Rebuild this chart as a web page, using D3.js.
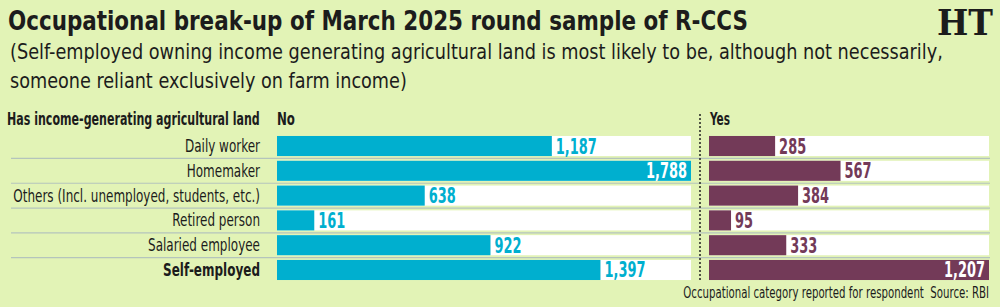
<!DOCTYPE html>
<html>
<head>
<meta charset="utf-8">
<script src="https://cdn.jsdelivr.net/npm/d3@7"></script>
<style>
  html, body { margin: 0; padding: 0; background: #e2f3b6; }
  svg { display: block; }
  text { font-family: "DejaVu Sans Condensed", "Liberation Sans Narrow", "DejaVu Sans", sans-serif; fill: #1c1c1c; }
</style>
</head>
<body>
<div id="chart"></div>
<script>
// data
var categories = ["Daily worker", "Homemaker", "Others (Incl. unemployed, students, etc.)",
  "Retired person", "Salaried employee", "Self-employed"];
var noLand = [1187, 1788, 638, 161, 922, 1397];
var yesLand = [285, 567, 384, 95, 333, 1207];

var svgWidth = 1000;
var svgHeight = 307;

var svg = d3.select("#chart")
  .append("svg")
  .attr("width", svgWidth)
  .attr("height", svgHeight);

svg.append("rect")
  .attr("width", svgWidth)
  .attr("height", svgHeight)
  .attr("fill", "#e2f3b6");

// the original uses a condensed face, so squeeze text horizontally with a transform
function scaleX(node, k) {
  var t = d3.select(node);
  var x = +t.attr("x") || 0;
  var yy = +t.attr("y") || 0;
  t.attr("x", 0).attr("y", 0)
    .attr("transform", `translate(${x},${yy}) scale(${k},1)`);
}
function fitTo(sel, w) {
  sel.each(function() {
    scaleX(this, w / this.getComputedTextLength());
  });
}
function squeeze(sel, k) {
  sel.each(function() { scaleX(this, k); });
}

// title block
var title = svg.append("text")
  .attr("x", 8).attr("y", 30)
  .attr("font-size", 27).attr("font-weight", "bold")
  .text("Occupational break-up of March 2025 round sample of R-CCS");
fitTo(title, 740);

var sub1 = svg.append("text")
  .attr("x", 10).attr("y", 59)
  .attr("font-size", 22)
  .text("(Self-employed owning income generating agricultural land is most likely to be, although not necessarily,");
fitTo(sub1, 933);

var sub2 = svg.append("text")
  .attr("x", 10).attr("y", 88)
  .attr("font-size", 22)
  .text("someone reliant exclusively on farm income)");
fitTo(sub2, 397);

var logo = svg.append("text")
  .attr("x", 993).attr("y", 35)
  .attr("text-anchor", "end")
  .attr("font-size", 35).attr("font-weight", "bold")
  .style("font-family", "'DejaVu Serif', 'Liberation Serif', serif")
  .text("HT");
fitTo(logo, 56);

// scales
var y = d3.scaleBand()
  .domain(categories)
  .range([133.5, 282.5])
  .paddingInner(0.19)
  .paddingOuter(0.1);

var xNo = d3.scaleLinear()
  .domain([0, d3.max(noLand)])
  .range([277, 691]);

var xYes = d3.scaleLinear()
  .domain([0, d3.max(yesLand)])
  .range([709, 989]);

var rows = categories.map(function(c, i) {
  return { cat: c, no: noLand[i], yes: yesLand[i], i: i };
});

// separator lines between rows
svg.selectAll(".sep")
  .data(rows.slice(0, rows.length - 1))
  .enter()
  .append("line")
  .attr("class", "sep")
  .attr("x1", 11).attr("x2", 990)
  .attr("y1", d => y(d.cat) + y.bandwidth() + 2.4)
  .attr("y2", d => y(d.cat) + y.bandwidth() + 2.4)
  .attr("stroke", "#b4c4bc")
  .attr("stroke-width", 1.2);

// header row
var header = svg.append("text")
  .attr("x", 7).attr("y", 125)
  .attr("font-size", 17).attr("font-weight", "bold")
  .text("Has income-generating agricultural land");
fitTo(header, 253);

var noHead = svg.append("text")
  .attr("x", 277).attr("y", 125)
  .attr("font-size", 17).attr("font-weight", "bold")
  .text("No");
fitTo(noHead, 18);

var yesHead = svg.append("text")
  .attr("x", 710).attr("y", 125)
  .attr("font-size", 17).attr("font-weight", "bold")
  .text("Yes");
fitTo(yesHead, 20);

// white track behind bars
svg.selectAll(".trackNo")
  .data(rows)
  .enter()
  .append("rect")
  .attr("x", xNo(0))
  .attr("y", d => y(d.cat))
  .attr("width", xNo.range()[1] - xNo(0))
  .attr("height", y.bandwidth())
  .attr("fill", "#ffffff");

svg.selectAll(".trackYes")
  .data(rows)
  .enter()
  .append("rect")
  .attr("x", xYes(0))
  .attr("y", d => y(d.cat))
  .attr("width", xYes.range()[1] - xYes(0))
  .attr("height", y.bandwidth())
  .attr("fill", "#ffffff");

// bars
svg.selectAll(".barNo")
  .data(rows)
  .enter()
  .append("rect")
  .attr("class", "barNo")
  .attr("x", xNo(0))
  .attr("y", d => y(d.cat))
  .attr("width", d => xNo(d.no) - xNo(0))
  .attr("height", y.bandwidth())
  .attr("fill", "#00afcf");

svg.selectAll(".barYes")
  .data(rows)
  .enter()
  .append("rect")
  .attr("class", "barYes")
  .attr("x", xYes(0))
  .attr("y", d => y(d.cat))
  .attr("width", d => xYes(d.yes) - xYes(0))
  .attr("height", y.bandwidth())
  .attr("fill", "#733a58");

// category labels
var catLabels = svg.selectAll(".cat")
  .data(rows)
  .enter()
  .append("text")
  .attr("class", "cat")
  .attr("x", 260)
  .attr("y", d => y(d.cat) + y.bandwidth() / 2 + 6)
  .attr("text-anchor", "end")
  .attr("font-size", 17)
  .attr("font-weight", d => d.cat === "Self-employed" ? "bold" : "normal")
  .text(d => d.cat);

var othersLen = catLabels.filter(d => d.i === 2).node().getComputedTextLength();
squeeze(catLabels, 247 / othersLen);

// value labels
var fmt = d3.format(",");
var maxNo = d3.max(noLand);
var maxYes = d3.max(yesLand);

var valNo = svg.selectAll(".valNo")
  .data(rows)
  .enter()
  .append("text")
  .attr("class", "valNo")
  .attr("x", d => d.no === maxNo ? xNo(d.no) - 4 : xNo(d.no) + 4)
  .attr("y", d => y(d.cat) + y.bandwidth() / 2 + 7.5)
  .attr("text-anchor", d => d.no === maxNo ? "end" : "start")
  .attr("font-size", 21).attr("font-weight", "bold")
  .style("fill", d => d.no === maxNo ? "#ffffff" : "#00afcf")
  .text(d => fmt(d.no));

var valYes = svg.selectAll(".valYes")
  .data(rows)
  .enter()
  .append("text")
  .attr("class", "valYes")
  .attr("x", d => d.yes === maxYes ? xYes(d.yes) - 4 : xYes(d.yes) + 4)
  .attr("y", d => y(d.cat) + y.bandwidth() / 2 + 7.5)
  .attr("text-anchor", d => d.yes === maxYes ? "end" : "start")
  .attr("font-size", 21).attr("font-weight", "bold")
  .style("fill", d => d.yes === maxYes ? "#ffffff" : "#733a58")
  .text(d => fmt(d.yes));

var refLen = valNo.filter(d => d.i === 0).node().getComputedTextLength();
var kVal = 41 / refLen;
squeeze(valNo, kVal);
squeeze(valYes, kVal);

// dotted divider between panels
svg.append("line")
  .attr("x1", 700).attr("x2", 700)
  .attr("y1", 114).attr("y2", 281)
  .attr("stroke", "#222")
  .attr("stroke-width", 1.5)
  .attr("stroke-dasharray", "2,2");

// footer
var foot = svg.append("text")
  .attr("x", 989).attr("y", 298)
  .attr("text-anchor", "end")
  .attr("font-size", 15)
  .text("Occupational category reported for respondent\u00a0\u00a0Source: RBI");
fitTo(foot, 306);
</script>
</body>
</html>
